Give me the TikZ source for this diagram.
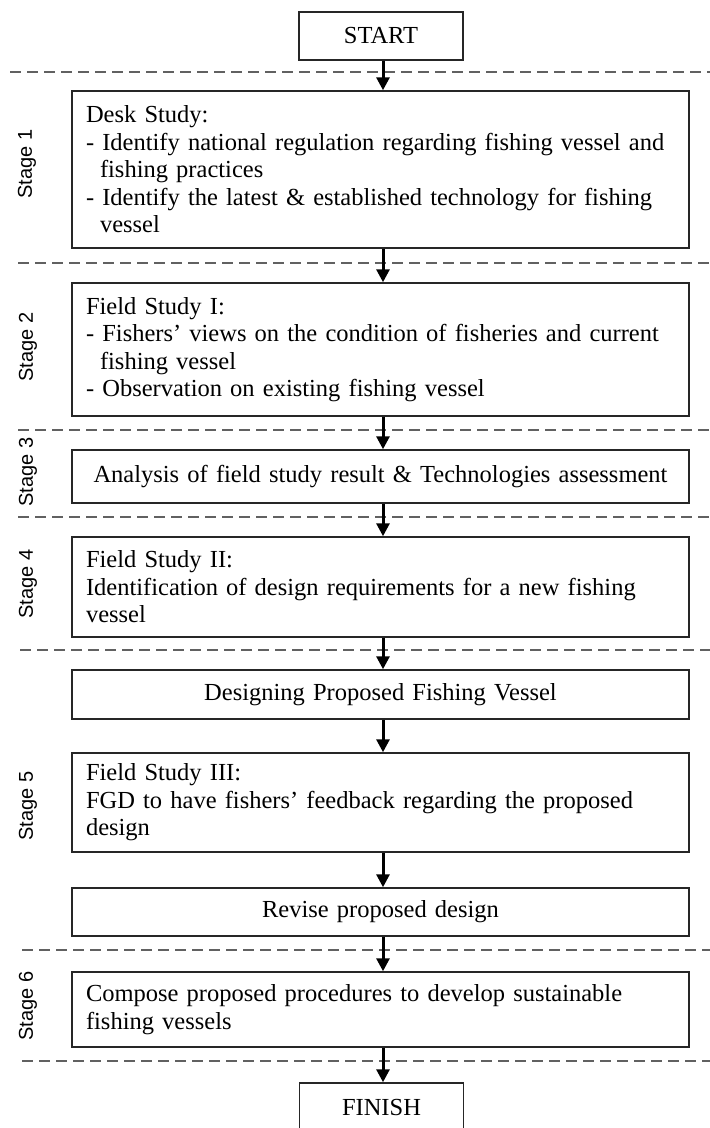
\documentclass[tikz,border=0pt]{standalone}
\usepackage{fontspec}
\setmainfont{Liberation Serif}
\newfontfamily\stagefont{Liberation Sans}
\usetikzlibrary{arrows.meta}
\begin{document}
\begin{tikzpicture}[x=1pt,y=-1pt,
  box/.style={draw=black!85, line width=1.5pt, rectangle, inner xsep=14pt, inner ysep=0pt,
    text width=589pt, align=left, font=\fontsize{24.5}{27.5}\selectfont},
  cbox/.style={box, align=center},
  endbox/.style={draw=black!85, line width=1.5pt, rectangle, minimum width=164pt,
    minimum height=48pt, inner sep=0pt, font=\fontsize{24.5}{27.5}\selectfont},
  stage/.style={rotate=90, font=\stagefont\fontsize{20}{24}\selectfont, inner sep=0pt},
  sep/.style={draw=black!62, line width=1.8pt, dash pattern=on 11pt off 6pt},
  arr/.style={line width=3pt, -{Triangle[length=13pt,width=13pt]}}
]
\useasboundingbox (0,0) rectangle (710,1128);
\clip (0,0) rectangle (710,1128);
\def\hang{\hspace*{14pt}}

% stage separators
\draw[sep] (10,72) -- (710,72);
\draw[sep] (18,263) -- (710,263);
\draw[sep] (18,430) -- (710,430);
\draw[sep] (18,517) -- (710,517);
\draw[sep] (20,650) -- (710,650);
\draw[sep] (22,950) -- (710,950);
\draw[sep] (22,1061) -- (710,1061);

% boxes
\node[endbox] (start) at (381,36) {START};
\node[box, minimum height=157pt] (b1) at (380.5,169.5) {Desk Study:\\
- Identify national regulation regarding fishing vessel and\\
\hang fishing practices\\
- Identify the latest \& established technology for fishing\\
\hang vessel};
\node[box, minimum height=133pt] (b2) at (380.5,349.5) {Field Study I:\\
- Fishers’ views on the condition of fisheries and current\\
\hang fishing vessel\\
- Observation on existing fishing vessel};
\node[cbox, minimum height=53pt] (b3) at (380.5,476.5) {Analysis of field study result \& Technologies assessment};
\node[box, minimum height=100pt] (b4) at (380.5,587) {Field Study II:\\
Identification of design requirements for a new fishing\\
vessel};
\node[cbox, minimum height=49pt] (b5) at (380.5,694.5) {Designing Proposed Fishing Vessel};
\node[box, minimum height=99pt] (b6) at (380.5,802.5) {Field Study III:\\
FGD to have fishers’ feedback regarding the proposed\\
design};
\node[cbox, minimum height=48pt] (b7) at (380.5,912) {Revise proposed design};
\node[box, minimum height=75pt] (b8) at (380.5,1009.5) {Compose proposed procedures to develop sustainable\\
fishing vessels};
\node[endbox] (finish) at (381.5,1107) {FINISH};

% stage labels
\node[stage] (s1) at (27,164) {Stage 1};
\node[stage] (s2) at (28,347) {Stage 2};
\node[stage] (s3) at (28,472) {Stage 3};
\node[stage] (s4) at (28,584) {Stage 4};
\node[stage] (s5) at (28,806) {Stage 5};
\node[stage] (s6) at (28,1006) {Stage 6};

% arrows
\draw[arr] ([xshift=2pt]start.south) -- ([xshift=2.5pt]b1.north);
\draw[arr] ([xshift=2.5pt]b1.south) -- ([xshift=2.5pt]b2.north);
\draw[arr] ([xshift=2.5pt]b2.south) -- ([xshift=2.5pt]b3.north);
\draw[arr] ([xshift=2.5pt]b3.south) -- ([xshift=2.5pt]b4.north);
\draw[arr] ([xshift=2.5pt]b4.south) -- ([xshift=2.5pt]b5.north);
\draw[arr] ([xshift=2.5pt]b5.south) -- ([xshift=2.5pt]b6.north);
\draw[arr] ([xshift=2.5pt]b6.south) -- ([xshift=2.5pt]b7.north);
\draw[arr] ([xshift=2.5pt]b7.south) -- ([xshift=2.5pt]b8.north);
\draw[arr] ([xshift=2.5pt]b8.south) -- ([xshift=1.5pt]finish.north);
\end{tikzpicture}
\end{document}
